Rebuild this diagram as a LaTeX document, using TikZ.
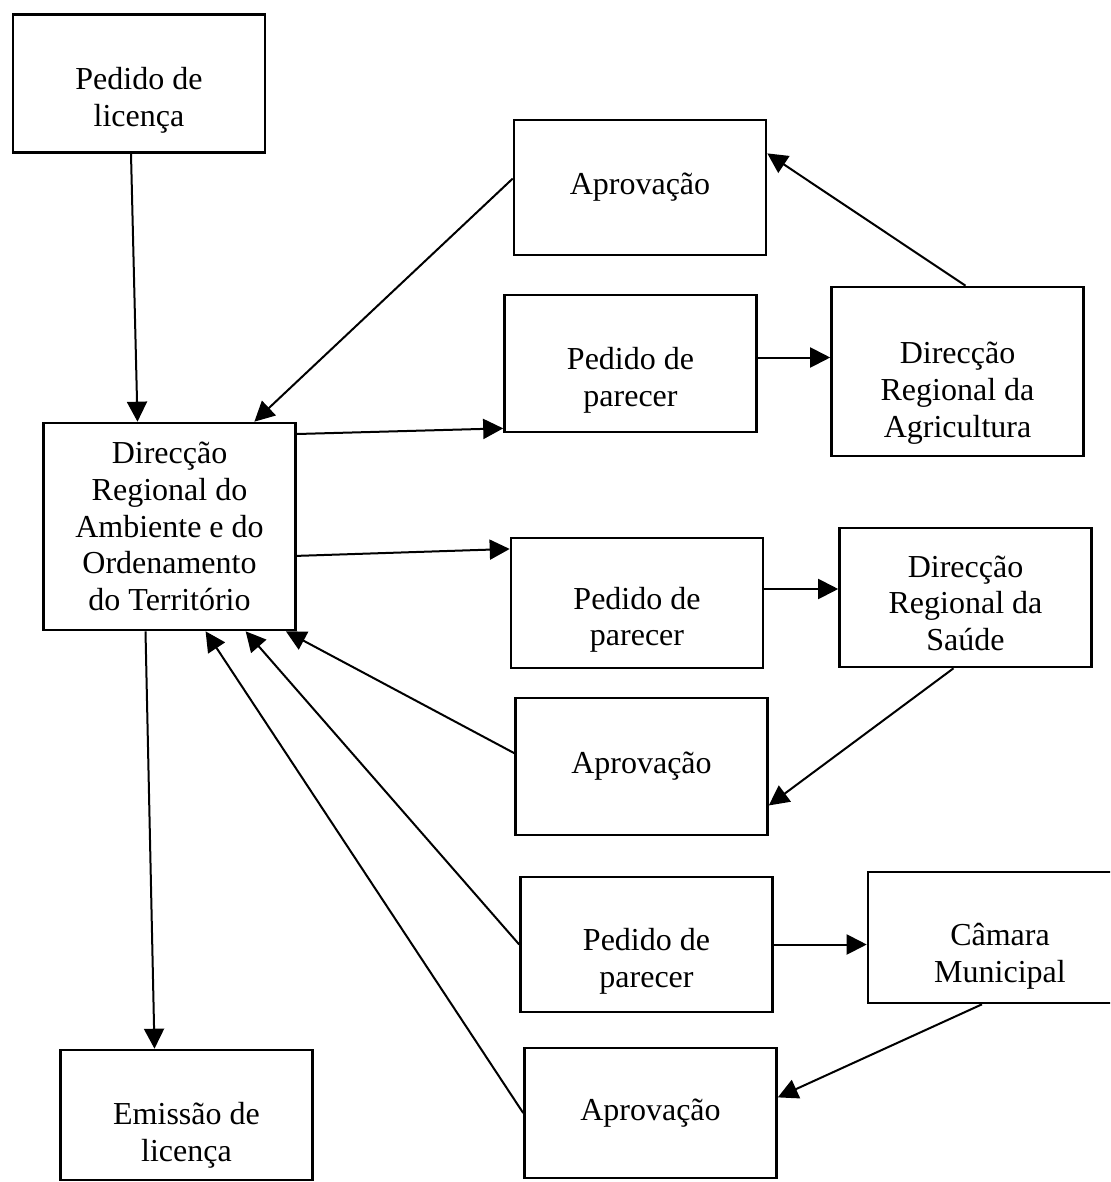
\documentclass[tikz,border=0pt]{standalone}
\usepackage{fontspec}
\setmainfont{Liberation Serif}
\usetikzlibrary{arrows.meta}
\newcommand{\uppad}[1]{\rule{0pt}{#1}}

\begin{document}
\begin{tikzpicture}[
x=0.5pt, y=-0.5pt,
every node/.style={
    draw,
    line width=1.3pt,
    minimum width=126pt,
    inner sep=2pt,
    align=center,
    font=\fontsize{16}{18.4}\selectfont
},
>={Triangle[length=10pt,width=10pt]}
]

\clip (0,0) rectangle (1110,1182);

\node (pedido) [minimum height=69pt] at (139,83.5)
{\uppad{28pt}Pedido de\\licença};

\node (drot) [minimum height=103.5pt] at (169.5,526.5)
{Direcção\\Regional do\\Ambiente e do\\Ordenamento\\do Território};

\node (emissao) [minimum height=65pt] at (186.5,1115)
{\uppad{31pt}Emissão de\\licença};

\node (aprovacao1) [minimum height=67.5pt] at (640,187.5)
{Aprovação};

\node (parecer1) [minimum height=68.5pt] at (630.5,363.5)
{\uppad{28pt}Pedido de\\parecer};

\node (agricultura) [minimum height=84.5pt] at (957.5,371.5)
{\uppad{32.5pt}Direcção\\Regional da\\Agricultura};

\node (parecer2) [minimum height=65pt] at (637,603)
{\uppad{28pt}Pedido de\\parecer};

\node (saude) [minimum height=69.5pt] at (965.5,597.5)
{\uppad{16.5pt}Direcção\\Regional da\\Saúde};

\node (aprovacao2) [minimum height=68.5pt] at (641.5,766.5)
{Aprovação};

\node (parecer3) [minimum height=67.5pt] at (646.5,944.5)
{\uppad{28pt}Pedido de\\parecer};

\node (camara) [minimum height=65.5pt, minimum width=132pt] at (1000,937.5)
{\uppad{30pt}Câmara\\Municipal};

\node (aprovacao3) [minimum height=65pt] at (650.5,1113)
{Aprovação};

\draw[->,line width=1pt] ([xshift=-4pt]pedido.south)--([xshift=-16pt]drot.north);
\draw[->,line width=1pt] (drot.36)--(parecer1.207);
\draw[->,line width=1pt] ([yshift=3pt]parecer1.east)--([yshift=3pt]parecer1.east -| agricultura.west);
\draw[->,line width=1pt] ([xshift=4pt]agricultura.north)--(aprovacao1.15);
\draw[->,line width=1pt] (aprovacao1.176)--(drot.51);
\draw[->,line width=1pt] (drot.-13)--(parecer2.157);
\draw[->,line width=1pt] ([yshift=7pt]parecer2.east)--([yshift=7pt]parecer2.east -| saude.west);
\draw[->,line width=1pt] ([xshift=-6pt]saude.south)--(aprovacao2.-17);
\draw[->,line width=1pt] (aprovacao2.174)--(drot.-42);
\draw[->,line width=1pt] (parecer3.east)--(parecer3.east -| camara.west);
\draw[->,line width=1pt] (parecer3.west)--(drot.-54);
\draw[->,line width=1pt] ([xshift=-9pt]camara.south)--(aprovacao3.7);
\draw[->,line width=1pt] (aprovacao3.west)--(drot.-71);
\draw[->,line width=1pt] ([xshift=-12pt]drot.south)--([xshift=-16pt]emissao.north);

\end{tikzpicture}
\end{document}
